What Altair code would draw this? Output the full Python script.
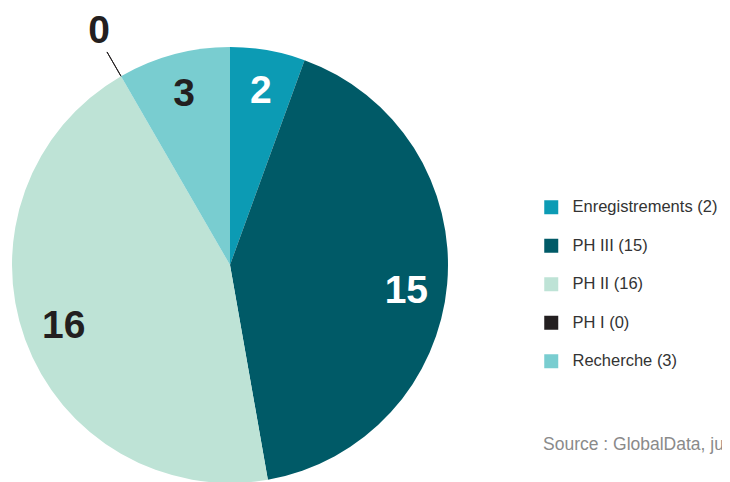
import altair as alt
import pandas as pd

categories = ["Enregistrements", "PH III", "PH II", "PH I", "Recherche"]
values = [2, 15, 16, 0, 3]
colors = ["#0c9bb4", "#005a67", "#bee3d6", "#231f20", "#79cdd0"]
inner_label_color = ["white", "white", "#231f20", "#231f20", "#231f20"]
source_text = "Source : GlobalData, ju"

legend_labels = [f"{c} ({v})" for c, v in zip(categories, values)]
df = pd.DataFrame({
    "cat": categories,
    "val": values,
    "idx": list(range(len(categories))),
    "legend": legend_labels,
    "inner_a": [str(v) if (v > 0 and c != "PH III") else "" for c, v in zip(categories, values)],
    "inner_b": [str(v) if c == "PH III" else "" for c, v in zip(categories, values)],
    "outer": [str(v) if v == 0 else "" for v in values],
    "tcolor": inner_label_color,
})

CX, CY = 222, 257
R = 218

theta = alt.Theta("val:Q", stack=True)
order = alt.Order("idx:O")
color = alt.Color(
    "legend:N",
    scale=alt.Scale(domain=legend_labels, range=colors),
    sort=legend_labels,
    legend=alt.Legend(
        title=None, orient="none", legendX=535, legendY=191,
        symbolType="square", symbolSize=196, symbolStrokeWidth=0,
        labelFontSize=16.5, labelFont="Liberation Sans", labelColor="#333333",
        rowPadding=21.5, labelOffset=13, symbolOpacity=1,
    ),
)

base = alt.Chart(df).encode(theta=theta, order=order,
                            x=alt.value(CX), y=alt.value(CY))

pie = base.mark_arc(radius=R, stroke=None).encode(color=color)

leader = base.mark_arc(radius=R, radius2=R + 28, fillOpacity=0, stroke="#231f20",
                       strokeWidth=1).encode(
    strokeOpacity=alt.condition(alt.datum.val == 0, alt.value(1), alt.value(0))
)

text_style = dict(fontSize=39, fontWeight="bold", font="Liberation Sans",
                  align="center", baseline="middle")

inner_a = base.mark_text(radius=177, **text_style).encode(
    text="inner_a:N",
    color=alt.Color("tcolor:N", scale=None),
)

inner_b = base.mark_text(radius=177, dy=11, **text_style).encode(
    text="inner_b:N",
    color=alt.Color("tcolor:N", scale=None),
)

outer = base.mark_text(radius=270, dx=4, dy=0, color="#231f20",
                       **text_style).encode(text="outer:N")

source = alt.Chart(pd.DataFrame({"t": [source_text]})).mark_text(
    align="left", baseline="middle", fontSize=17.5, font="Liberation Sans", color="#8a8a8a"
).encode(text="t:N", x=alt.value(535), y=alt.value(437))

chart = alt.layer(pie, leader, inner_a, inner_b, outer, source).properties(
    width=714, height=474,
    autosize=alt.AutoSizeParams(type="none"),
    padding=0,
).configure_view(stroke=None)

chart.save("out.html", embed_options={"renderer": "svg", "actions": False})
